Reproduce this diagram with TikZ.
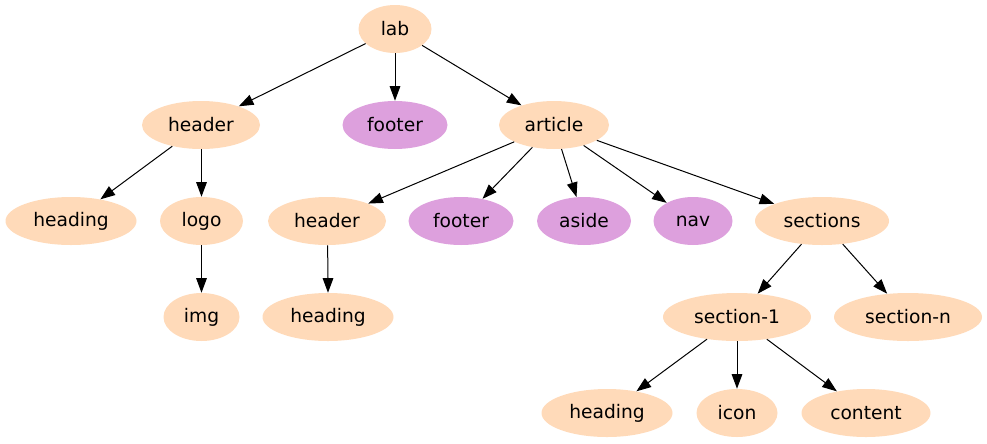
\documentclass[tikz,border=0pt]{standalone}
\usepackage{fontspec}
\setmainfont{DejaVu Sans}
\usetikzlibrary{arrows.meta,shapes.geometric}
\definecolor{peach}{HTML}{FFDAB9}
\definecolor{plum}{HTML}{DDA0DD}
\tikzset{
	elem/.style={ellipse, fill=peach, inner sep=0pt, minimum height=36pt, minimum width=#1, font=\fontsize{14pt}{17pt}\selectfont},
	opt/.style={elem=#1, fill=plum},
	link/.style={line width=0.75pt, -{Triangle[length=11pt,width=8pt]}}
}
\begin{document}
\begin{tikzpicture}[x=0.75pt, y=-0.75pt]
				\useasboundingbox (0, 0) rectangle (987, 443);
				
				\node[elem=54.75pt] (lab) at (395, 29) {lab};
				
				\node[elem=88.5pt] (hdr) at (201, 125) {header};
				\node[opt=78.75pt] (ftr) at (395, 125) {footer};
				\node[elem=82.5pt] (art) at (554, 125) {article};
				
				\node[elem=98.25pt] (hdrhead) at (71, 221) {heading};
				\node[elem=62.25pt] (logo) at (201.5, 221) {logo};
				\node[elem=88.5pt] (ahdr) at (327, 221) {header};
				\node[opt=78.75pt] (aftr) at (461, 221) {footer};
				\node[opt=70.5pt] (aside) at (584, 221) {aside};
				\node[opt=59.25pt] (nav) at (693, 221) {nav};
				\node[elem=100.5pt] (secs) at (822, 221) {sections};
				
				\node[elem=57pt] (img) at (201.5, 317) {img};
				\node[elem=98.25pt] (ahead) at (328, 317) {heading};
				\node[elem=111pt] (sec1) at (737, 317) {section-1};
				\node[elem=111pt] (secn) at (908, 317) {section-n};
				
				\node[elem=98.25pt] (shead) at (607, 413) {heading};
				\node[elem=60.75pt] (icon) at (737, 413) {icon};
				\node[elem=96.75pt] (content) at (866, 413) {content};
				
				\draw[link] (lab) -- (hdr);
				\draw[link] (lab) -- (ftr);
				\draw[link] (lab) -- (art);
				
				\draw[link] (hdr) -- (hdrhead);
				\draw[link] (hdr.south -| logo) -- (logo);
				\draw[link] (logo) -- (img);
				
				\draw[link] (art) -- (ahdr);
				\draw[link] (art) -- (aftr);
				\draw[link] (art) -- (aside);
				\draw[link] (art) -- (nav);
				\draw[link] (art) -- (secs);
				\draw[link] (ahdr) .. controls (328, 262) .. (ahead);
				
				\draw[link] (secs) -- (sec1);
				\draw[link] (secs) -- (secn);
				\draw[link] (sec1) -- (shead);
				\draw[link] (sec1) -- (icon);
				\draw[link] (sec1) -- (content);
\end{tikzpicture}
\end{document}
